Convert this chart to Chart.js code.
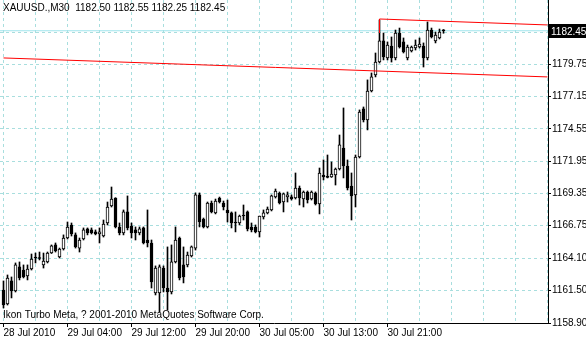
<!DOCTYPE html>
<html>
<head>
<meta charset="utf-8">
<script src="https://cdn.jsdelivr.net/npm/chart.js@4.4.1/dist/chart.umd.min.js"></script>
<style>
  html, body { margin: 0; padding: 0; background: #fff; }
  canvas { display: block; }
</style>
</head>
<body>
<canvas id="mychart" width="586" height="340"></canvas>
<script>
// XAUUSD M30 bars
const opens = [1161.56, 1160.43, 1162.29, 1161.48, 1163.42, 1163.17, 1162.69, 1163.25, 1164.22, 1164.14,
  1163.58, 1163.82, 1164.54, 1165.19, 1164.22, 1164.86, 1165.75, 1166.80, 1166.00, 1164.94,
  1165.67, 1166.48, 1166.40, 1166.24, 1166.07, 1165.91, 1166.96, 1168.33, 1168.97, 1166.64,
  1166.16, 1167.85, 1166.72, 1166.40, 1166.16, 1166.56, 1165.59, 1165.35, 1161.32, 1161.32,
  1163.33, 1161.72, 1161.40, 1163.82, 1165.75, 1163.58, 1163.58, 1164.30, 1164.94, 1169.22,
  1167.28, 1166.64, 1168.57, 1167.77, 1168.97, 1168.57, 1168.01, 1167.77, 1167.04, 1166.96,
  1167.60, 1167.85, 1166.64, 1166.64, 1166.24, 1167.44, 1167.77, 1168.01, 1169.06, 1169.38,
  1168.65, 1169.06, 1169.06, 1168.97, 1169.78, 1168.89, 1169.46, 1168.89, 1169.38, 1168.49,
  1170.83, 1170.67, 1170.67, 1170.83, 1171.31, 1173.00, 1171.55, 1169.94, 1169.22, 1172.28,
  1176.15, 1175.26, 1177.60, 1178.89, 1179.93, 1181.63, 1180.26, 1181.22, 1180.26, 1182.27,
  1181.55, 1180.26, 1180.82, 1181.06, 1181.14, 1181.22, 1180.26, 1182.51, 1181.63, 1181.87,
  1182.50];
const highs = [1162.29, 1162.77, 1162.61, 1163.74, 1163.82, 1163.58, 1163.58, 1164.46, 1164.54, 1164.62,
  1164.54, 1164.62, 1165.19, 1165.35, 1164.94, 1166.00, 1167.04, 1166.96, 1166.16, 1165.75,
  1166.56, 1166.56, 1166.56, 1166.40, 1166.56, 1167.20, 1168.65, 1169.86, 1169.00, 1166.96,
  1168.01, 1169.14, 1166.96, 1166.64, 1166.64, 1166.64, 1168.01, 1165.59, 1163.50, 1163.58,
  1163.50, 1165.03, 1165.19, 1166.64, 1165.83, 1165.03, 1164.62, 1165.11, 1169.38, 1169.38,
  1167.36, 1168.65, 1168.73, 1168.89, 1169.05, 1168.73, 1168.81, 1167.85, 1167.85, 1167.60,
  1168.41, 1167.93, 1166.96, 1166.80, 1167.52, 1168.01, 1168.25, 1169.22, 1169.70, 1169.46,
  1169.38, 1169.46, 1169.22, 1170.99, 1169.94, 1169.54, 1169.54, 1169.54, 1169.46, 1171.39,
  1172.04, 1172.44, 1171.88, 1171.39, 1174.05, 1176.23, 1172.04, 1170.99, 1172.44, 1176.07,
  1176.31, 1178.49, 1179.05, 1180.66, 1183.32, 1182.27, 1181.55, 1181.95, 1182.51, 1182.67,
  1181.87, 1181.30, 1181.22, 1181.71, 1181.87, 1181.47, 1183.16, 1182.67, 1182.35, 1182.59,
  1182.55];
const lows = [1160.11, 1160.35, 1160.92, 1161.40, 1162.37, 1162.53, 1162.37, 1163.17, 1163.74, 1163.98,
  1163.33, 1163.74, 1164.50, 1164.62, 1164.14, 1164.78, 1165.67, 1165.91, 1164.94, 1164.62,
  1165.59, 1166.00, 1166.07, 1166.00, 1165.35, 1165.83, 1166.80, 1168.25, 1166.56, 1166.00,
  1166.00, 1166.40, 1165.75, 1165.59, 1166.00, 1165.27, 1165.03, 1161.72, 1161.16, 1159.80,
  1161.40, 1159.95, 1161.24, 1163.74, 1162.37, 1162.13, 1163.42, 1164.22, 1164.78, 1166.64,
  1166.56, 1166.56, 1167.77, 1167.69, 1168.57, 1168.01, 1167.04, 1166.56, 1166.24, 1166.80,
  1167.20, 1166.32, 1166.24, 1166.16, 1165.83, 1167.28, 1167.69, 1167.93, 1168.97, 1168.49,
  1167.85, 1168.65, 1168.81, 1168.89, 1168.41, 1168.25, 1168.57, 1168.81, 1168.41, 1167.69,
  1170.43, 1170.59, 1170.63, 1170.02, 1171.23, 1170.59, 1169.62, 1167.20, 1168.25, 1172.20,
  1175.10, 1174.46, 1177.52, 1178.73, 1179.85, 1180.10, 1180.10, 1179.93, 1180.10, 1181.06,
  1180.66, 1180.10, 1180.74, 1180.90, 1181.06, 1179.53, 1180.10, 1181.87, 1181.47, 1181.79,
  1182.25];
const closes = [1160.35, 1162.53, 1161.48, 1163.58, 1162.53, 1162.61, 1163.25, 1164.06, 1164.14, 1164.10,
  1163.90, 1164.54, 1165.11, 1164.70, 1164.86, 1165.75, 1166.64, 1166.07, 1165.03, 1165.59,
  1166.40, 1166.16, 1166.16, 1166.07, 1166.24, 1166.88, 1168.25, 1168.89, 1166.64, 1166.16,
  1167.85, 1166.56, 1166.16, 1166.16, 1166.48, 1165.35, 1165.35, 1162.21, 1163.33, 1163.42,
  1161.72, 1161.40, 1163.82, 1165.59, 1162.53, 1162.61, 1164.38, 1165.03, 1169.22, 1167.04,
  1166.64, 1168.57, 1167.85, 1168.73, 1168.65, 1168.25, 1167.77, 1166.96, 1166.96, 1167.52,
  1167.52, 1166.48, 1166.40, 1166.24, 1167.52, 1167.77, 1168.09, 1169.14, 1169.54, 1168.57,
  1169.30, 1169.22, 1168.89, 1169.78, 1168.97, 1169.46, 1168.81, 1169.46, 1168.49, 1170.99,
  1170.67, 1170.63, 1170.91, 1171.31, 1173.25, 1171.55, 1169.78, 1169.14, 1172.28, 1175.90,
  1175.26, 1177.60, 1178.73, 1179.93, 1181.63, 1180.34, 1181.30, 1180.26, 1182.27, 1181.14,
  1180.74, 1181.14, 1181.14, 1181.30, 1181.38, 1180.26, 1182.51, 1181.95, 1182.11, 1182.35,
  1182.45];

// time axis: grid every 8 bars, labels every 16
const gridBars = [0, 8, 16, 24, 32, 40, 48, 56, 64, 72, 80, 88, 96, 104, 112, 120, 128, 136];
const timeBars = [0, 16, 32, 48, 64, 80, 96];
const timeLabels = ['28 Jul 2010', '29 Jul 04:00', '29 Jul 12:00', '29 Jul 20:00', '30 Jul 05:00', '30 Jul 13:00', '30 Jul 21:00'];

// price axis
const priceTicks = [1158.90, 1161.50, 1164.10, 1166.75, 1169.35, 1171.95, 1174.55, 1177.15, 1179.75, 1182.35];
const priceMin = 1158.90;
const priceMax = 1184.93;
const bid = 1182.45;

// Ikon Turbo Meta channel lines [bar, price]
const lowerLine = [[0, 1180.26], [136, 1178.73]];
const upperLine = [[94, 1182.27], [94, 1183.40], [136, 1182.92]];

const title = 'XAUUSD.,M30  ' + [opens, highs, lows, closes].map(a => a[a.length - 1].toFixed(2)).join(' ');
const footer = 'Ikon Turbo Meta, ? 2001-2010 MetaQuotes Software Corp.';

const bodies = opens.map((o, i) => ({ x: i, y: [o, closes[i]] }));
const wicks = lows.map((l, i) => ({ x: i, y: [l, highs[i]] }));
const bodyColors = opens.map((o, i) => closes[i] < o ? '#000000' : '#ffffff');

const gridColor = '#a8dede';
const font = { family: '"Liberation Sans", Arial, sans-serif', size: 10 };

const overlay = {
    id: 'overlay',
    afterDraw(chart) {
        const c = chart.ctx;
        const y = chart.scales.y;
        c.save();
        c.font = '10px "Liberation Sans", Arial, sans-serif';
        c.fillStyle = '#000000';
        c.textBaseline = 'alphabetic';
        c.fillText(title, 3, 11);
        c.fillText(footer, 3, 318);
        const py = Math.round(y.getPixelForValue(bid));
        c.fillRect(549, py - 7, 37, 14);
        c.fillStyle = '#ffffff';
        c.textBaseline = 'middle';
        c.fillText(bid.toFixed(2), 551, py + 1);
        c.restore();
    }
};

const ctx = document.getElementById('mychart');
var chart = new Chart(ctx, {
    type: 'bar',
    data: {
        datasets: [{
            type: 'line',
            data: lowerLine.map(p => ({ x: p[0], y: p[1] })),
            borderColor: '#ff0000',
            borderWidth: 1,
            pointRadius: 0,
            order: 0
        }, {
            type: 'line',
            data: upperLine.map(p => ({ x: p[0], y: p[1] })),
            borderColor: '#ff0000',
            borderWidth: 1,
            pointRadius: 0,
            order: 0
        }, {
            data: bodies,
            backgroundColor: bodyColors,
            borderColor: '#000000',
            borderWidth: 1,
            borderSkipped: false,
            barThickness: 3,
            minBarLength: 1,
            grouped: false,
            order: 1
        }, {
            data: wicks,
            backgroundColor: '#000000',
            borderWidth: 0,
            barThickness: 1,
            grouped: false,
            order: 2
        }, {
            type: 'line',
            data: [{ x: -0.875, y: bid }, { x: 136.125, y: bid }],
            borderColor: '#9fe4ec',
            borderWidth: 1,
            pointRadius: 0,
            order: 3
        }]
    },
    options: {
        responsive: false,
        animation: false,
        devicePixelRatio: 1,
        layout: { padding: 0 },
        plugins: {
            legend: { display: false },
            tooltip: { enabled: false }
        },
        scales: {
            x: {
                type: 'linear',
                min: -0.875,
                max: 136.125,
                offset: false,
                grid: {
                    offset: false,
                    color: gridColor,
                    tickLength: 4,
                    tickBorderDash: [],
                    tickColor: (c) => timeBars.includes(c.tick.value) ? '#000000' : 'rgba(0,0,0,0)'
                },
                border: { color: '#000000', dash: [3, 3] },
                afterBuildTicks: (s) => { s.ticks = gridBars.map(v => ({ value: v })); },
                afterFit: (s) => { s.paddingLeft = 0; s.paddingRight = 0; s.height = 17; },
                ticks: {
                    align: 'start',
                    autoSkip: false,
                    maxRotation: 0,
                    padding: 0,
                    color: '#000000',
                    font: font,
                    callback: (v) => {
                        const k = timeBars.indexOf(v);
                        return k < 0 ? '' : timeLabels[k];
                    }
                }
            },
            y: {
                position: 'right',
                min: priceMin,
                max: priceMax,
                grid: {
                    color: gridColor,
                    tickLength: 3,
                    tickBorderDash: [],
                    tickColor: '#000000'
                },
                border: { color: '#000000', dash: [3, 3] },
                afterBuildTicks: (s) => { s.ticks = priceTicks.map(v => ({ value: v })); },
                afterFit: (s) => { s.paddingTop = 0; s.paddingBottom = 0; s.width = 38; },
                ticks: {
                    padding: 1,
                    color: '#000000',
                    font: font,
                    callback: (v) => v === 1182.35 ? '' : v.toFixed(2)
                }
            }
        }
    },
    plugins: [overlay]
});
</script>
</body>
</html>
